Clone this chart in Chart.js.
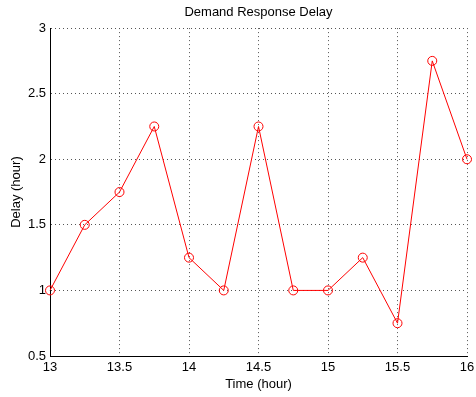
<!DOCTYPE html>
<html>
<head>
<meta charset="utf-8">
<script src="https://cdn.jsdelivr.net/npm/chart.js@4/dist/chart.umd.min.js"></script>
<style>
  html, body { margin: 0; padding: 0; background: #fff; }
  #wrap { width: 476px; height: 397px; position: relative; }
</style>
</head>
<body>
<div id="wrap"><canvas id="c"></canvas></div>
<script>
// Sampling times (hour) and measured demand response delay (hour)
const timeHours = [13, 13.25, 13.5, 13.75, 14, 14.25, 14.5, 14.75, 15, 15.25, 15.5, 15.75, 16];
const delayHours = [1, 1.5, 1.75, 2.25, 1.25, 1, 2.25, 1, 1, 1.25, 0.75, 2.75, 2];
const xTicks = [13, 13.5, 14, 14.5, 15, 15.5, 16];
const yTicks = [0.5, 1, 1.5, 2, 2.5, 3];

const points = timeHours.map((t, i) => ({ x: t, y: delayHours[i] }));
const family = "'Liberation Sans', Arial, sans-serif";
const tickFont = { family, size: 13 };
const labelFont = { family, size: 13 };
const plain = v => String(v);

new Chart(document.getElementById('c'), {
  type: 'line',
  data: {
    datasets: [{
      data: points,
      borderColor: '#ff0000',
      backgroundColor: 'rgba(0,0,0,0)',
      borderWidth: 1,
      pointStyle: 'circle',
      pointRadius: 4.5,
      pointBorderWidth: 1,
      pointBorderColor: '#ff0000',
      pointBackgroundColor: 'rgba(0,0,0,0)',
      tension: 0,
      clip: false
    }]
  },
  options: {
    responsive: true,
    maintainAspectRatio: false,
    animation: false,
    layout: { autoPadding: false, padding: { left: 0, right: 0, top: 0, bottom: 0 } },
    plugins: {
      legend: { display: false },
      tooltip: { enabled: false },
      title: {
        display: true,
        fullSize: false,
        text: 'Demand Response Delay',
        color: '#000',
        font: { family, size: 13, weight: 'normal' },
        padding: { top: 5, bottom: 7.5 }
      }
    },
    scales: {
      x: {
        type: 'linear',
        min: 13,
        max: 16,
        afterBuildTicks: s => { s.ticks = xTicks.map(v => ({ value: v })); },
        afterFit: s => { s.height = 41; s.paddingRight = 9; },
        border: { display: true, color: '#000', width: 1, dash: [1, 3] },
        grid: { color: '#555', lineWidth: 1, drawTicks: false, tickLength: 0 },
        ticks: { color: '#000', font: tickFont, padding: 4, maxRotation: 0, autoSkip: false, callback: plain },
        title: { display: true, text: 'Time (hour)', color: '#000', font: labelFont, padding: { top: 0, bottom: 5 } }
      },
      y: {
        type: 'linear',
        min: 0.5,
        max: 3,
        afterBuildTicks: s => { s.ticks = yTicks.map(v => ({ value: v })); },
        afterFit: s => { s.width = 50; },
        border: { display: true, color: '#000', width: 1, dash: [1, 3] },
        grid: { color: '#555', lineWidth: 1, drawTicks: false, tickLength: 0 },
        ticks: { color: '#000', font: tickFont, padding: 4, autoSkip: false, callback: plain },
        title: { display: true, text: 'Delay (hour)', color: '#000', font: labelFont, padding: { top: 9, bottom: 4 } }
      }
    }
  }
});
</script>
</body>
</html>
